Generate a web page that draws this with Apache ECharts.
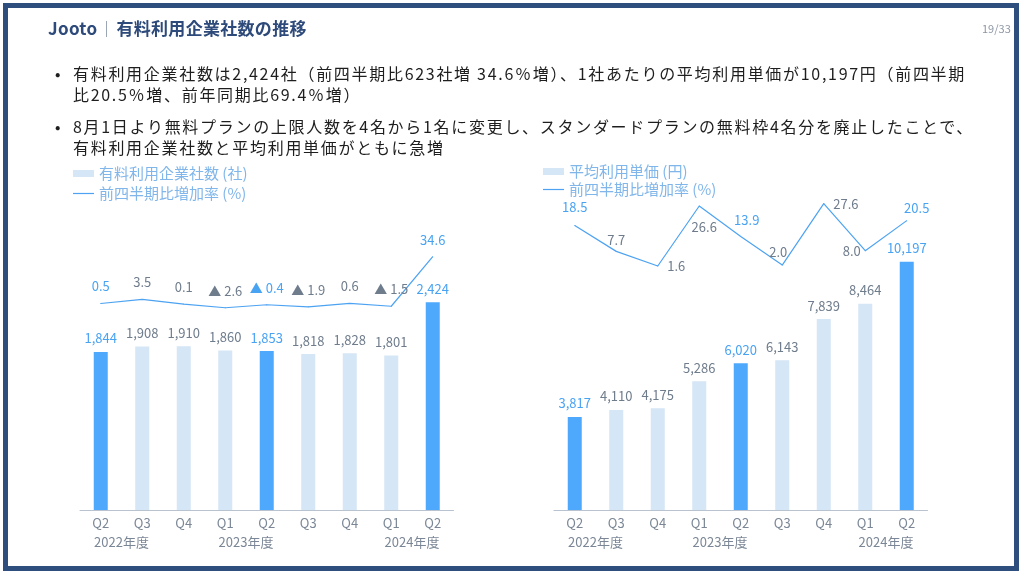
<!DOCTYPE html>
<html><head><meta charset="utf-8">
<script src="https://cdn.jsdelivr.net/npm/echarts@6/dist/echarts.min.js"></script>
<style>
html,body{margin:0;padding:0;width:1024px;height:576px;overflow:hidden;background:#fff;font-family:"Noto Sans CJK JP","Noto Sans",sans-serif;}
#frame{position:absolute;left:3px;top:3px;width:1016px;height:568px;box-sizing:border-box;border:5px solid #2e4e7e;}
#chart{position:absolute;left:0;top:0;width:1024px;height:576px;}
#title{position:absolute;left:48px;top:16px;font-size:17px;line-height:24px;font-weight:bold;color:#2d4a7a;white-space:nowrap;letter-spacing:0.3px;}
#title .sep{display:inline-block;width:1px;height:16px;background:#9aa6b6;margin:0 9px 0 9px;vertical-align:-2px;}
#page{position:absolute;left:982px;top:21px;font-size:11px;line-height:14px;color:#8d97a5;}
.ln{position:absolute;left:73px;font-size:16px;line-height:21px;color:#1e1e1e;white-space:nowrap;letter-spacing:1.7px;}
.bul{position:absolute;left:55px;font-size:16px;line-height:21px;color:#1e1e1e;}
</style></head>
<body>
<div id="frame"></div>
<div id="chart"></div>
<div id="title">Jooto<span class="sep"></span>有料利用企業社数の推移</div>
<div id="page">19/33</div>
<div class="bul" style="top:63px">•</div>
<div class="ln" style="top:63px">有料利用企業社数は2,424社（前四半期比623社増 34.6％増）、1社あたりの平均利用単価が10,197円（前四半期</div>
<div class="ln" style="top:84px">比20.5％増、前年同期比69.4％増）</div>
<div class="bul" style="top:116px">•</div>
<div class="ln" style="top:116px">8月1日より無料プランの上限人数を4名から1名に変更し、スタンダードプランの無料枠4名分を廃止したことで、</div>
<div class="ln" style="top:137px">有料利用企業社数と平均利用単価がともに急増</div>
<script>
const categories = ['Q2','Q3','Q4','Q1','Q2','Q3','Q4','Q1','Q2'];
const fiscalYears = [
  {label:'2022年度', from:0, to:1},
  {label:'2023年度', from:3, to:4},
  {label:'2024年度', from:7, to:8}
];
const companyCounts = [1844,1908,1910,1860,1853,1818,1828,1801,2424];
const companyGrowth = [0.5,3.5,0.1,-2.6,-0.4,-1.9,0.6,-1.5,34.6];
const avgPrice = [3817,4110,4175,5286,6020,6143,7839,8464,10197];
const priceGrowth = [18.5,7.7,1.6,26.6,13.9,2.0,27.6,8.0,20.5];
const seriesNames = ['有料利用企業社数 (社)','前四半期比増加率 (%)','平均利用単価 (円)'];

const FONT = '"Noto Sans CJK JP","Noto Sans",sans-serif';
const BLUE = '#4ea9fd', LIGHT = '#d5e6f6', LINE = '#4da3f2';
const LBL_BLUE = '#49a3f3', LBL_GRAY = '#6f7c8c';
const isHi = i => categories[i] === 'Q2';

const priceGrowthLabelPlacement = [
  {position:'top', distance:11},
  {position:'top', distance:4},
  {position:'right', distance:9},
  {position:'bottom', distance:14, offset:[5,0]},
  {position:'top', distance:9, offset:[6,0]},
  {position:'top', distance:6, offset:[-4,0]},
  {position:'right', distance:9},
  {position:'left', distance:4},
  {position:'top', distance:6, offset:[10,0]}
];

const fmtInt = v => v.toLocaleString('en-US');
const fmtPct = v => (v < 0 ? '▲ ' : '') + Math.abs(v).toFixed(1);

function barData(vals){
  return vals.map((v,i)=>({value:v, itemStyle:{color: isHi(i)?BLUE:LIGHT},
    label:{color: isHi(i)?LBL_BLUE:LBL_GRAY}}));
}
function lineData(vals, placement){
  return vals.map((v,i)=>{
    const lab = Object.assign({color: isHi(i)?LBL_BLUE:LBL_GRAY}, placement ? placement[i] : {});
    return {value:v, label:lab};
  });
}
function xAx(gi){
  return {type:'category', gridIndex:gi, data:categories, boundaryGap:true,
    axisLine:{lineStyle:{color:'#b9c3cf', width:1}}, axisTick:{show:false},
    axisLabel:{color:'#7b8796', fontSize:13, margin:7, fontFamily:FONT}};
}
function legend(left, top, name, isLine){
  return {left:left, top:top, padding:0, itemGap:0, itemWidth:21, itemHeight: isLine?1.2:7,
    selectedMode:false,
    data:[{name:name, icon:'rect', itemStyle:{color: isLine?LINE:LIGHT}}],
    textStyle:{color:'#80b6ea', fontSize:15, fontFamily:FONT}};
}

const chart = echarts.init(document.getElementById('chart'), null, {renderer:'canvas'});
const labelBase = {show:true, fontSize:13, fontFamily:FONT};
chart.setOption({
  animation:false,
  textStyle:{fontFamily:FONT},
  grid:[
    {left:80, width:373.5, top:167, height:343},
    {left:554, width:373.5, top:169, height:341}
  ],
  legend:[
    legend(73,166,seriesNames[0],false),
    legend(73,186,seriesNames[1],true),
    legend(543,164,seriesNames[2],false),
    legend(543,182,seriesNames[1],true)
  ],
  xAxis:[xAx(0), xAx(1)],
  yAxis:[
    {gridIndex:0, min:0, max:4000, show:false},
    {gridIndex:0, min:-150, max:100, show:false},
    {gridIndex:1, min:0, max:14000, show:false},
    {gridIndex:1, min:-100, max:42, show:false}
  ],
  series:[
    {type:'bar', name:seriesNames[0], xAxisIndex:0, yAxisIndex:0, barWidth:14,
      data:barData(companyCounts),
      label:Object.assign({position:'top', distance:7, formatter:p=>fmtInt(p.value)}, labelBase)},
    {type:'line', name:seriesNames[1], xAxisIndex:0, yAxisIndex:1,
      symbol:'circle', symbolSize:1, itemStyle:{color:LINE}, lineStyle:{color:LINE, width:1.2},
      data:lineData(companyGrowth),
      label:Object.assign({position:'top', distance:10, formatter:p=>fmtPct(p.value)}, labelBase)},
    {type:'bar', name:seriesNames[2], xAxisIndex:1, yAxisIndex:2, barWidth:14,
      data:barData(avgPrice),
      label:Object.assign({position:'top', distance:7, formatter:p=>fmtInt(p.value)}, labelBase)},
    {type:'line', name:seriesNames[1], xAxisIndex:1, yAxisIndex:3,
      symbol:'circle', symbolSize:1, itemStyle:{color:LINE}, lineStyle:{color:LINE, width:1.2},
      data:lineData(priceGrowth, priceGrowthLabelPlacement),
      label:Object.assign({formatter:p=>fmtPct(p.value)}, labelBase)}
  ]
});

// fiscal year group labels, centred between their categories via the axis scale
const g = [];
[0,1].forEach(ax=>{
  fiscalYears.forEach(fy=>{
    const x1 = chart.convertToPixel({xAxisIndex:ax}, fy.from);
    const x2 = chart.convertToPixel({xAxisIndex:ax}, fy.to);
    g.push({type:'text', x:(x1+x2)/2, y:542,
      style:{text:fy.label, fill:'#7b8796', fontSize:13, fontFamily:FONT, align:'center', verticalAlign:'middle'}});
  });
});
chart.setOption({graphic:g});
</script>
</body></html>
